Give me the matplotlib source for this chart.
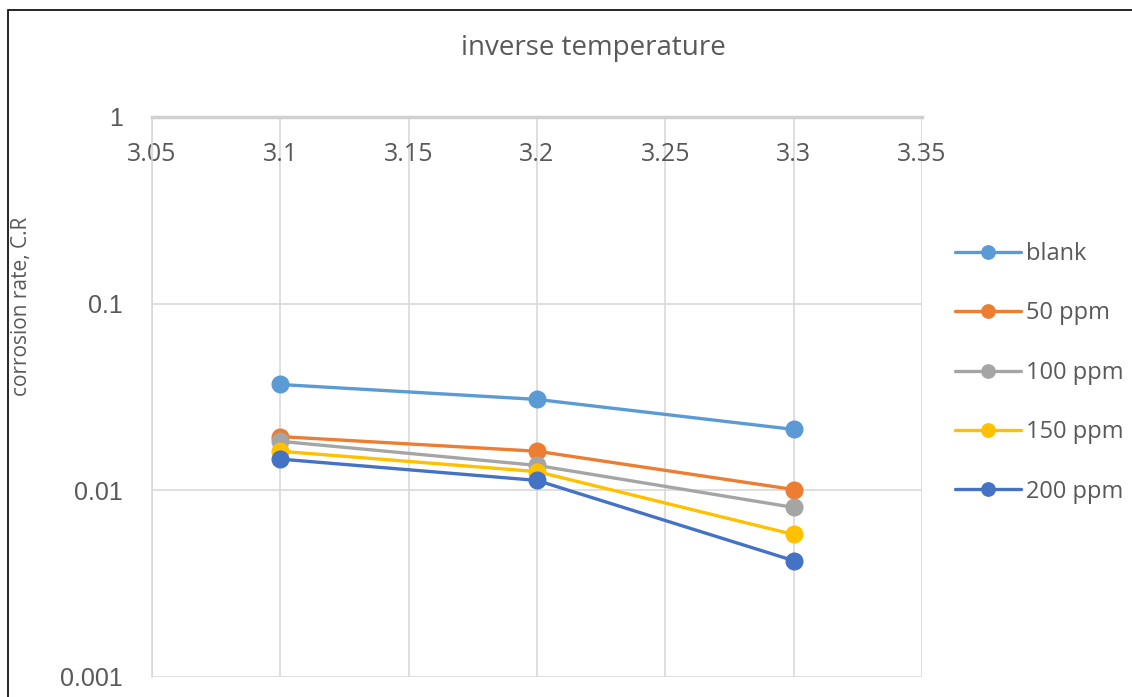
import matplotlib
matplotlib.use("Agg")
import matplotlib.pyplot as plt
from matplotlib.patches import Rectangle

# inverse temperature (1000/T) and corrosion rate per inhibitor dose
inv_temp = [3.1, 3.2, 3.3]
blank = [0.0369, 0.0307, 0.0212]
ppm_50 = [0.0194, 0.0162, 0.0101]
ppm_100 = [0.0183, 0.0136, 0.0081]
ppm_150 = [0.0162, 0.0126, 0.0058]
ppm_200 = [0.0147, 0.0113, 0.0042]

series_names = ["blank", "50 ppm", "100 ppm", "150 ppm", "200 ppm"]
series_values = [blank, ppm_50, ppm_100, ppm_150, ppm_200]
colores = ["#5B9BD5", "#ED7D31", "#A5A5A5", "#FFC000", "#4472C4"]

x_ticks = [3.05, 3.1, 3.15, 3.2, 3.25, 3.3, 3.35]
x_tick_labels = ["3.05", "3.1", "3.15", "3.2", "3.25", "3.3", "3.35"]
y_ticks = [0.001, 0.01, 0.1, 1]
y_tick_labels = ["0.001", "0.01", "0.1", "1"]

gris_texto = "#595959"
gris_linea = "#D9D9D9"

fig = plt.figure(figsize=(11.32, 6.97), dpi=100)
ax = fig.add_axes([152 / 1132, 20 / 697, 770 / 1132, 560 / 697])

for nombre, valores, color in zip(series_names, series_values, colores):
    ax.plot(inv_temp, valores, color=color, linewidth=2.4, marker="o",
            markersize=12, label=nombre, solid_capstyle="round")

ax.set_yscale("log")
ax.set_ylim(0.001, 1)
ax.set_xlim(3.05, 3.35)
ax.minorticks_off()

ax.set_yticks(y_ticks)
ax.set_yticklabels(y_tick_labels, family="Liberation Sans", fontsize=18, color=gris_texto)
ax.set_xticks(x_ticks)
ax.set_xticklabels(x_tick_labels, family="Open Sans", fontsize=18, color=gris_texto)

# the horizontal axis crosses at y = 1, labels sit just under it
ax.tick_params(axis="x", top=False, bottom=False, labeltop=True, labelbottom=False,
               length=0, pad=-36)
ax.tick_params(axis="y", length=0, pad=21)

ax.grid(True, color=gris_linea, linewidth=1.2)
ax.set_axisbelow(True)
for lado in ["right", "bottom"]:
    ax.spines[lado].set_visible(False)
ax.spines["top"].set_color("#D0D0D0")
ax.spines["top"].set_linewidth(2.5)
ax.spines["left"].set_color(gris_linea)
ax.spines["left"].set_linewidth(1.2)

fig.text(593 / 1132, 1 - 48 / 697, "inverse temperature", family="Open Sans", fontsize=20,
         color=gris_texto, ha="center", va="center")
fig.text(22 / 1132, 1 - 306 / 697, "corrosion rate, C.R", family="Open Sans", fontsize=15,
         color=gris_texto, ha="center", va="center", rotation=90)

fig.legend(loc="upper left", bbox_to_anchor=(955 / 1132, 1 - 242 / 697), frameon=False,
           prop={"family": "Open Sans", "size": 17}, labelcolor=gris_texto,
           handlelength=2.8, handletextpad=0.2, labelspacing=1.5, borderaxespad=0,
           borderpad=0, markerscale=0.8)

fig.add_artist(Rectangle((8 / 1132, -0.1), 1.2, 1.1 - 10 / 697, transform=fig.transFigure,
                         fill=False, edgecolor="black", linewidth=1.2))

fig.savefig("out.png", dpi=100)
